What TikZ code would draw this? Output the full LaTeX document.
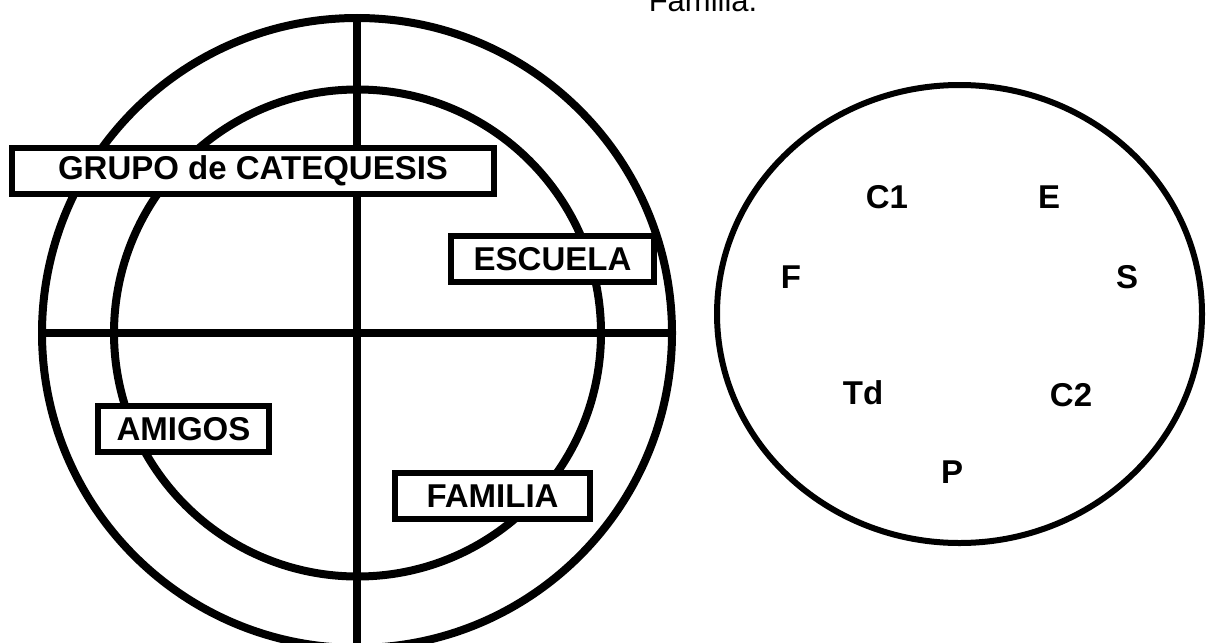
\documentclass[tikz,border=0pt]{standalone}
\usepackage{fontspec}
\setmainfont{Liberation Sans}
\usetikzlibrary{positioning,shapes.geometric}

\begin{document}
\begin{tikzpicture}[
		x=1pt,y=-1pt,
		rim/.style={draw, line width=8pt, circle, inner sep=0pt},
		lbl/.style={draw, line width=6pt, fill=white, minimum height=46pt, inner sep=0pt,
			font=\bfseries\fontsize{33}{38}\selectfont},
		tag/.style={inner sep=0pt, font=\bfseries\fontsize{33}{38}\selectfont}
		]
		\useasboundingbox (0,0) rectangle (1206,642);
		
		% ====== TITULO (cortado arriba) ======
		\node[anchor=base, inner sep=0pt, font=\fontsize{31}{36}\selectfont] (title) at (703,12) {Familia.};
		
		% ====== CIRCULO IZQUIERDO ======
		\node[rim, minimum size=630pt] (outer) at (357,333) {};
		\node[rim, minimum size=487pt] (inner) at (357.5,333) {};
		\draw[line width=7.5pt] (outer.north) -- (outer.south);
		\draw[line width=7.5pt] (outer.west) -- (outer.east);
		
		% ====== ETIQUETAS ======
		\node[lbl, minimum width=482pt] (grupo) at (253,171) {GRUPO de CATEQUESIS};
		\node[lbl, minimum width=203pt] (escuela) at (552.5,259) {ESCUELA};
		\node[lbl, minimum width=171pt] (amigos) at (183.5,429) {AMIGOS};
		\node[lbl, minimum width=195pt] (familia) at (492.5,496) {FAMILIA};
		
		% ====== CIRCULO DERECHO ======
		\node[draw, ellipse, line width=6pt, minimum width=485pt, minimum height=458pt, inner sep=0pt] (round) at (959.5,314) {};
		
		\node[tag] (c1) at (887,197) {C1};
		\node[tag] (e) at (1049,197) {E};
		\node[tag] (f) at (791,277) {F};
		\node[tag] (s) at (1127,277) {S};
		\node[tag] (td) at (863,393) {Td};
		\node[tag] (c2) at (1071,395) {C2};
		\node[tag] (p) at (952,472) {P};
		
\end{tikzpicture}
\end{document}
